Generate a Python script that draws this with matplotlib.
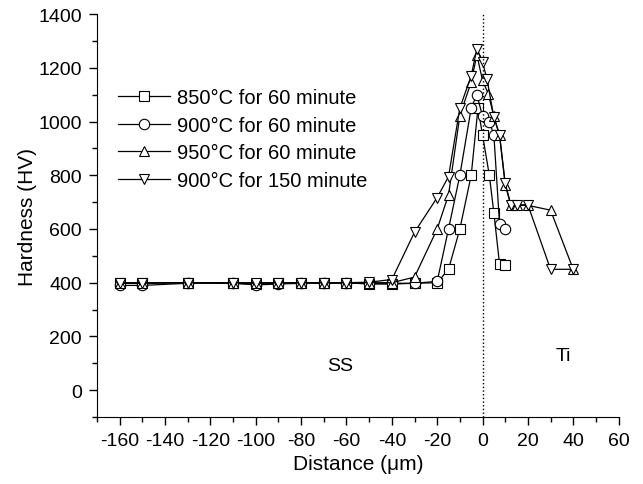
import numpy as np
import matplotlib
matplotlib.use('Agg')
import matplotlib.pyplot as plt
from matplotlib.ticker import MultipleLocator

plt.rcParams['font.family'] = ['Liberation Sans', 'DejaVu Sans']
plt.rcParams['axes.unicode_minus'] = False

# distance (um) and hardness (HV) for each heat treatment
flat_x = [-160, -150, -130, -110, -100, -90, -80, -70, -60, -50]

x_850_60 = flat_x + [-40, -30, -20, -15, -10, -5, -2, 0, 3, 5, 7.5, 10]
hv_850_60 = [398, 398, 400, 398, 395, 398, 400, 400, 400, 395,
             395, 398, 400, 450, 600, 800, 1050, 950, 800, 660, 470, 465]

x_900_60 = flat_x + [-40, -30, -20, -15, -10, -5, -2.5, 0, 3, 5, 7.5, 10]
hv_900_60 = [390, 390, 398, 398, 392, 395, 398, 398, 398, 398,
             398, 398, 405, 600, 800, 1050, 1100, 1020, 1000, 950, 620, 600]

x_950_60 = flat_x + [-40, -30, -20, -15, -10, -5, -2.5, 0, 2.5, 5, 7.5, 10,
                     12.5, 15, 20, 30, 40]
hv_950_60 = [398, 398, 400, 400, 398, 400, 400, 400, 400, 400,
             400, 421, 600, 727, 1022, 1147, 1248, 1153, 1104, 1020, 950, 765,
             688, 688, 688, 670, 450]

x_900_150 = flat_x + [-40, -30, -20, -15, -10, -5, -2.5, 0, 2, 5, 7.5, 10,
                      12.5, 15, 20, 30, 40]
hv_900_150 = [400, 400, 400, 400, 400, 400, 400, 400, 400, 402,
              412, 588, 717, 795, 1050, 1170, 1270, 1220, 1157, 1015, 950, 770,
              690, 690, 690, 450, 450]

labels = ['850°C for 60 minute', '900°C for 60 minute',
          '950°C for 60 minute', '900°C for 150 minute']

fig = plt.figure(figsize=(6.43, 4.85), dpi=100)
ax = fig.add_axes([0.151, 0.138, 0.811, 0.831])

series = [(x_850_60, hv_850_60, 's'), (x_900_60, hv_900_60, 'o'),
          (x_950_60, hv_950_60, '^'), (x_900_150, hv_900_150, 'v')]
for (xs, ys, mk), lab in zip(series, labels):
    ax.plot(xs, ys, marker=mk, color='black', lw=0.9, markersize=7.5,
            markerfacecolor='white', markeredgewidth=0.8, label=lab)

ax.axvline(0, color='black', ls=':', lw=1)

ax.text(-63, 93, 'SS', fontsize=14, ha='center', va='center')
ax.text(35.5, 131, 'Ti', fontsize=14, ha='center', va='center')

ax.set_xlim(-170, 60)
ax.set_ylim(-100, 1400)
ax.xaxis.set_minor_locator(MultipleLocator(10))
ax.yaxis.set_minor_locator(MultipleLocator(100))
ax.set_xticks(np.arange(-160, 61, 20))
ax.set_yticks(np.arange(0, 1401, 200))

for s in ['top', 'right']:
    ax.spines[s].set_visible(False)
ax.tick_params(which='major', direction='out', length=6, width=1,
               labelsize=14, pad=5)
ax.tick_params(which='minor', direction='out', length=3.5, width=1)

ax.set_xlabel('Distance (\u03bcm)', fontsize=15, labelpad=3)
ax.set_ylabel('Hardness (HV)', fontsize=15, labelpad=1)

ax.legend(loc='upper left', bbox_to_anchor=(0.1835, 0.816),
          bbox_transform=fig.transFigure, frameon=False, borderpad=0,
          fontsize=14.5, handlelength=2.6, handletextpad=0.35,
          labelspacing=0.42, borderaxespad=0)

fig.savefig('out.png', dpi=100)
